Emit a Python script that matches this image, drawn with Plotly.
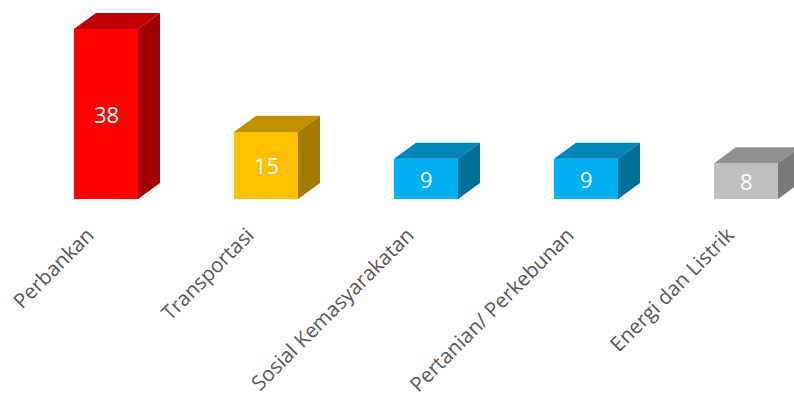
import plotly.graph_objects as go

# Sector counts
categories = ["Perbankan", "Transportasi", "Sosial Kemasyarakatan",
              "Pertanian/ Perkebunan", "Energi dan Listrik"]
values = [38, 15, 9, 9, 8]

# Face colours per bar: front, top, side
front_colors = ["#FF0000", "#FFC000", "#00B0F0", "#00B0F0", "#BFBFBF"]
top_colors = ["#C00000", "#BF9000", "#0087B8", "#0087B8", "#8F8F8F"]
side_colors = ["#A30000", "#A37B00", "#00709A", "#00709A", "#7A7A7A"]

BAR_W = 0.4        # front face width in category units
DEPTH_X = 0.1375   # oblique depth, x (category units)
DEPTH_Y = 3.58     # oblique depth, y (value units)

fig = go.Figure()

xs = list(range(len(categories)))
for i, v in zip(xs, values):
    x0, x1 = i - BAR_W / 2, i + BAR_W / 2
    # front face
    fig.add_trace(go.Scatter(
        x=[x0, x1, x1, x0, x0], y=[0, 0, v, v, 0],
        fill="toself", fillcolor=front_colors[i], mode="lines",
        line=dict(width=0, color=front_colors[i]), hoverinfo="skip"))
    # top face
    fig.add_trace(go.Scatter(
        x=[x0, x1, x1 + DEPTH_X, x0 + DEPTH_X, x0],
        y=[v, v, v + DEPTH_Y, v + DEPTH_Y, v],
        fill="toself", fillcolor=top_colors[i], mode="lines",
        line=dict(width=0, color=top_colors[i]), hoverinfo="skip"))
    # side face
    fig.add_trace(go.Scatter(
        x=[x1, x1 + DEPTH_X, x1 + DEPTH_X, x1, x1],
        y=[0, DEPTH_Y, v + DEPTH_Y, v, 0],
        fill="toself", fillcolor=side_colors[i], mode="lines",
        line=dict(width=0, color=side_colors[i]), hoverinfo="skip"))
    # value label centred on the front face
    fig.add_annotation(
        x=i, y=v / 2, text=str(v), showarrow=False, yshift=0,
        font=dict(family="Open Sans", size=22, color="white"))

fig.update_layout(
    width=794, height=398,
    margin=dict(l=0, r=0, t=0, b=199),
    paper_bgcolor="white", plot_bgcolor="white",
    showlegend=False,
    xaxis=dict(range=[-0.6625, 4.3], tickvals=xs, ticktext=categories,
               tickangle=-45, showgrid=False, zeroline=False, showline=False,
               ticks="", ticklabelstandoff=19, ticklabelshift=-18,
               automargin=False,
               tickfont=dict(family="Open Sans", size=20.5, color="#595959"),
               fixedrange=True),
    yaxis=dict(range=[0, 44.48], visible=False, fixedrange=True,
               automargin=False),
)

fig.write_html("out.html")
